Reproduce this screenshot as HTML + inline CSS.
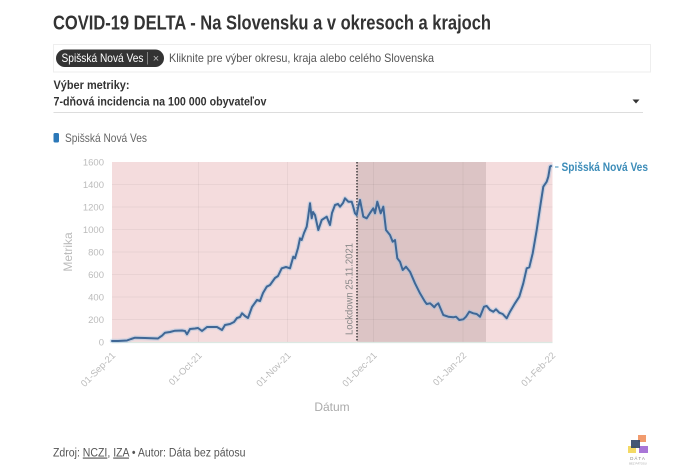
<!DOCTYPE html>
<html>
<head>
<meta charset="utf-8">
<style>
  html,body{margin:0;padding:0;background:#fff;}
  body{width:700px;height:467px;overflow:hidden;}
  svg{display:block;font-family:"Liberation Sans",sans-serif;}
</style>
</head>
<body>
<svg width="700" height="467" viewBox="0 0 700 467" xmlns="http://www.w3.org/2000/svg">
  <!-- Title -->
  <text x="53" y="29.5" font-size="20" font-weight="bold" fill="#333" textLength="438" lengthAdjust="spacingAndGlyphs">COVID-19 DELTA - Na Slovensku a v okresoch a krajoch</text>

  <!-- Search box -->
  <rect x="53.5" y="44.5" width="597" height="27.5" fill="#fff" stroke="#eeeeee" stroke-width="1"/>
  <rect x="56" y="49.5" width="108" height="17.5" rx="8.75" fill="#333"/>
  <text x="61.5" y="62" font-size="12" fill="#fff" textLength="82" lengthAdjust="spacingAndGlyphs">Spišská Nová Ves</text>
  <line x1="147.5" y1="52" x2="147.5" y2="64.5" stroke="#999" stroke-width="0.8"/>
  <text x="156" y="62" font-size="11" fill="#bbb" text-anchor="middle">×</text>
  <text x="169" y="62" font-size="12" fill="#555" textLength="265" lengthAdjust="spacingAndGlyphs">Kliknite pre výber okresu, kraja alebo celého Slovenska</text>

  <!-- Metric selection -->
  <text x="53.5" y="89" font-size="12" font-weight="bold" fill="#333" textLength="76" lengthAdjust="spacingAndGlyphs">Výber metriky:</text>
  <text x="53.5" y="105.5" font-size="12" font-weight="bold" fill="#333" textLength="213" lengthAdjust="spacingAndGlyphs">7-dňová incidencia na 100 000 obyvateľov</text>
  <polygon points="632.5,99.5 639.5,99.5 636,103.5" fill="#333"/>
  <line x1="53.5" y1="112.5" x2="643" y2="112.5" stroke="#ddd" stroke-width="1"/>

  <!-- Legend -->
  <rect x="53.5" y="133" width="5.5" height="9.5" rx="1.5" fill="#2b78b8"/>
  <text x="65" y="142" font-size="12" fill="#666" textLength="82" lengthAdjust="spacingAndGlyphs">Spišská Nová Ves</text>

  <!-- Plot background -->
  <rect x="112" y="162" width="440.5" height="180" fill="#f4dcdd"/>
  <rect x="357" y="162" width="129" height="180" fill="#dcc4c5"/>

  <!-- Grid -->
  <g stroke="#000" stroke-opacity="0.045" stroke-width="1">
    <line x1="112" y1="319.5" x2="552.5" y2="319.5"/>
    <line x1="112" y1="297" x2="552.5" y2="297"/>
    <line x1="112" y1="274.5" x2="552.5" y2="274.5"/>
    <line x1="112" y1="252" x2="552.5" y2="252"/>
    <line x1="112" y1="229.5" x2="552.5" y2="229.5"/>
    <line x1="112" y1="207" x2="552.5" y2="207"/>
    <line x1="112" y1="184.5" x2="552.5" y2="184.5"/>
    <line x1="198.5" y1="162" x2="198.5" y2="342"/>
    <line x1="287.5" y1="162" x2="287.5" y2="342"/>
    <line x1="373.5" y1="162" x2="373.5" y2="342"/>
    <line x1="463" y1="162" x2="463" y2="342"/>
  </g>
  <line x1="112" y1="342.5" x2="552.5" y2="342.5" stroke="#dce8e2" stroke-width="1.2"/>

  <!-- Y tick labels -->
  <g font-size="9.5" fill="#bbb" text-anchor="end">
    <text x="104" y="345.5">0</text>
    <text x="104" y="323">200</text>
    <text x="104" y="300.5">400</text>
    <text x="104" y="278">600</text>
    <text x="104" y="255.5">800</text>
    <text x="104" y="233">1000</text>
    <text x="104" y="210.5">1200</text>
    <text x="104" y="188">1400</text>
    <text x="104" y="165.5">1600</text>
  </g>
  <text transform="translate(72,252) rotate(-90)" font-size="12" fill="#bbb" text-anchor="middle">Metrika</text>

  <!-- X tick labels -->
  <g font-size="9.5" fill="#bbb" text-anchor="end">
    <text transform="translate(116,356) rotate(-45)">01-Sep-21</text>
    <text transform="translate(202.5,356) rotate(-45)">01-Oct-21</text>
    <text transform="translate(291.5,356) rotate(-45)">01-Nov-21</text>
    <text transform="translate(377.5,356) rotate(-45)">01-Dec-21</text>
    <text transform="translate(467,356) rotate(-45)">01-Jan-22</text>
    <text transform="translate(556,356) rotate(-45)">01-Feb-22</text>
  </g>
  <text x="332" y="411" font-size="12" fill="#aaa" text-anchor="middle">Dátum</text>

  <!-- Lockdown line & label -->
  <line x1="357" y1="162" x2="357" y2="342" stroke="#333" stroke-width="1.4" stroke-dasharray="1.5,1.5"/>
  <text transform="translate(352.5,335) rotate(-90)" font-size="10" fill="#888" textLength="92" lengthAdjust="spacingAndGlyphs">Lockdown 25.11.2021</text>

  <!-- Series -->
  <polyline fill="none" stroke="#9fc0df" stroke-opacity="0.45" stroke-width="4.5" stroke-linejoin="round" stroke-linecap="round"
    points="112,341 118,341 127,340.5 131,339 135,337.7 145,338 158,338.5 160,337 162,335.7 165,332.7 170,332 175,330.7 182,330.5 185,331 187,334.3 190,329 195,328.5 198,328 202,331 207,327 212,327 217,327 222,330 225,325 230,324 234,322 237,318 240,317 242,313.3 245,316 248,318 252,307 257,300 260,301 263,293 266.7,286.7 270,285 275,278 278,276 281.7,268.3 286,267 290,268.3 293.3,256.7 295,258.3 298,248 300,238.3 301.7,240 304,233 306.7,226.7 308,218 310,203.3 311.7,218.3 313,212 315,215 318.3,230 321.7,220 326.7,216.7 330,225 332,213 335,205 338,204 340,206.7 343,203 345,198.3 348.3,201.7 351.7,201.7 353,206 355,213.3 356.7,215 358,208 360,200 362,210 363.3,216.7 366.7,218.3 370,213 373.3,208.3 375,213.3 377.3,201.7 380.7,213.3 383.3,206.7 386,230 390,235 392.7,241.7 395,240 397.3,258.3 400,261.7 402.7,270 406,266.7 410,271.7 415,283.3 420,293.3 425,301.7 426.7,304 430,303.3 432,305 434.3,307.3 436,305 438.3,303.3 443.3,315 448.3,316.7 453.3,317.3 456,316.7 459.3,320 463.3,319.3 466,316.7 469.3,311.7 473.3,313.3 476.7,314 480,316.7 484,306.7 486.7,306 490,310 493.3,311.7 496,309.3 499.3,312.7 502.7,314 506.7,318.3 510,311.7 515,303.3 519.3,296.7 523.3,283.3 526.7,268.3 529.3,267.3 532.7,253.3 536.7,230 540.7,203.3 543.3,186.7 546.7,181.7 548.3,176.7 550,166.7 551,166"/>
  <polyline fill="none" stroke="#3f6796" stroke-width="2" stroke-linejoin="round" stroke-linecap="round"
    points="112,341 118,341 127,340.5 131,339 135,337.7 145,338 158,338.5 160,337 162,335.7 165,332.7 170,332 175,330.7 182,330.5 185,331 187,334.3 190,329 195,328.5 198,328 202,331 207,327 212,327 217,327 222,330 225,325 230,324 234,322 237,318 240,317 242,313.3 245,316 248,318 252,307 257,300 260,301 263,293 266.7,286.7 270,285 275,278 278,276 281.7,268.3 286,267 290,268.3 293.3,256.7 295,258.3 298,248 300,238.3 301.7,240 304,233 306.7,226.7 308,218 310,203.3 311.7,218.3 313,212 315,215 318.3,230 321.7,220 326.7,216.7 330,225 332,213 335,205 338,204 340,206.7 343,203 345,198.3 348.3,201.7 351.7,201.7 353,206 355,213.3 356.7,215 358,208 360,200 362,210 363.3,216.7 366.7,218.3 370,213 373.3,208.3 375,213.3 377.3,201.7 380.7,213.3 383.3,206.7 386,230 390,235 392.7,241.7 395,240 397.3,258.3 400,261.7 402.7,270 406,266.7 410,271.7 415,283.3 420,293.3 425,301.7 426.7,304 430,303.3 432,305 434.3,307.3 436,305 438.3,303.3 443.3,315 448.3,316.7 453.3,317.3 456,316.7 459.3,320 463.3,319.3 466,316.7 469.3,311.7 473.3,313.3 476.7,314 480,316.7 484,306.7 486.7,306 490,310 493.3,311.7 496,309.3 499.3,312.7 502.7,314 506.7,318.3 510,311.7 515,303.3 519.3,296.7 523.3,283.3 526.7,268.3 529.3,267.3 532.7,253.3 536.7,230 540.7,203.3 543.3,186.7 546.7,181.7 548.3,176.7 550,166.7 551,166"/>

  <!-- Series label -->
  <line x1="555" y1="167" x2="558.5" y2="167" stroke="#3c8cb8" stroke-width="1"/>
  <text x="561.5" y="171" font-size="12" font-weight="bold" fill="#3c8cb8" textLength="86.5" lengthAdjust="spacingAndGlyphs">Spišská Nová Ves</text>

  <!-- Footer -->
  <text x="53" y="456.5" font-size="11.5" fill="#555" textLength="192.5" lengthAdjust="spacingAndGlyphs">Zdroj: <tspan text-decoration="underline">NCZI</tspan>, <tspan text-decoration="underline">IZA</tspan> • Autor: Dáta bez pátosu</text>

  <!-- Logo -->
  <g>
    <rect x="638" y="435" width="8" height="7" fill="#ee8a55" opacity="0.85"/>
    <rect x="628" y="446" width="8" height="7" fill="#f2d44a" opacity="0.85"/>
    <rect x="639" y="446" width="9" height="7" fill="#9a5ed0" opacity="0.85"/>
    <rect x="631" y="440" width="9" height="8" fill="#2f4566" opacity="0.9"/>
    <text x="638" y="460" font-size="4.5" fill="#888" text-anchor="middle" letter-spacing="1">DÁTA</text>
    <text x="638" y="464.5" font-size="2.8" fill="#aaa" text-anchor="middle">BEZ PÁTOSU</text>
  </g>
</svg>
</body>
</html>
